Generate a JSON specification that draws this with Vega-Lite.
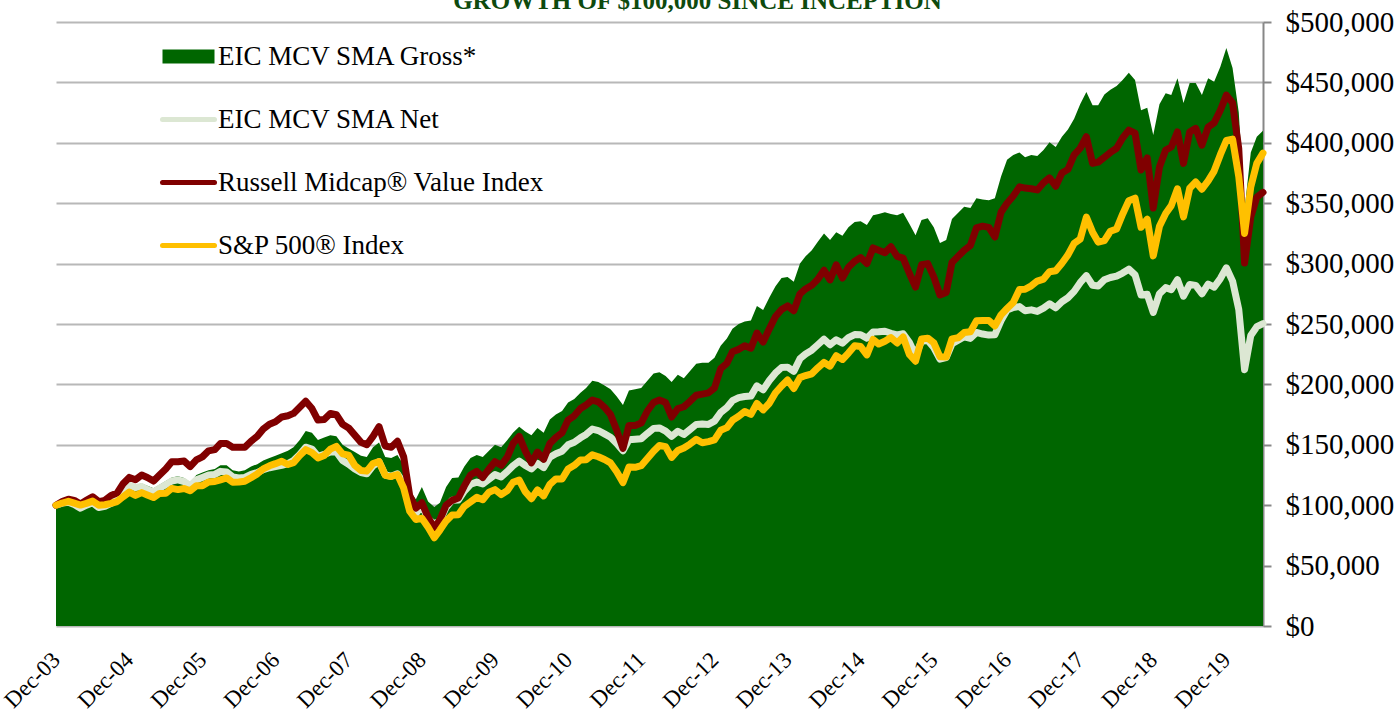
{
  "$schema": "https://vega.github.io/schema/vega-lite/v6.json",
  "width": 1207,
  "height": 604,
  "autosize": {"type": "none"},
  "padding": {"left": 56, "top": 22, "right": 132, "bottom": 99},
  "background": "white",
  "config": {"view": {"stroke": null}},
  "title": {
    "text": "GROWTH OF $100,000 SINCE INCEPTION",
    "font": "Liberation Serif",
    "fontSize": 25,
    "fontWeight": "bold",
    "color": "#0E4A0E",
    "anchor": "middle",
    "frame": "group",
    "offset": -26,
    "baseline": "alphabetic",
    "dx": 38
  },
  "data": {
    "values": [
      {"date": "2003-12-01", "gross": 100000, "net": 100000, "russell": 100000, "sp": 100000},
      {"date": "2004-01-01", "gross": 102000, "net": 101700, "russell": 103000, "sp": 101800},
      {"date": "2004-02-01", "gross": 103000, "net": 102500, "russell": 105000, "sp": 103200},
      {"date": "2004-03-01", "gross": 101000, "net": 100500, "russell": 104000, "sp": 101700},
      {"date": "2004-04-01", "gross": 98000, "net": 97500, "russell": 101000, "sp": 100100},
      {"date": "2004-05-01", "gross": 101000, "net": 100000, "russell": 104000, "sp": 101500},
      {"date": "2004-06-01", "gross": 103000, "net": 102000, "russell": 107000, "sp": 103400},
      {"date": "2004-07-01", "gross": 99000, "net": 98000, "russell": 103000, "sp": 100000},
      {"date": "2004-08-01", "gross": 100000, "net": 99000, "russell": 104000, "sp": 100400},
      {"date": "2004-09-01", "gross": 103000, "net": 101500, "russell": 108000, "sp": 101500},
      {"date": "2004-10-01", "gross": 106000, "net": 104500, "russell": 110000, "sp": 103000},
      {"date": "2004-11-01", "gross": 113000, "net": 111000, "russell": 118000, "sp": 107100},
      {"date": "2004-12-01", "gross": 119000, "net": 116500, "russell": 123000, "sp": 110800},
      {"date": "2005-01-01", "gross": 117000, "net": 114500, "russell": 121000, "sp": 108100},
      {"date": "2005-02-01", "gross": 118000, "net": 115500, "russell": 125000, "sp": 110400},
      {"date": "2005-03-01", "gross": 116000, "net": 113000, "russell": 123000, "sp": 108400},
      {"date": "2005-04-01", "gross": 114000, "net": 111000, "russell": 120000, "sp": 106300},
      {"date": "2005-05-01", "gross": 117000, "net": 114000, "russell": 125000, "sp": 109700},
      {"date": "2005-06-01", "gross": 120000, "net": 117000, "russell": 130000, "sp": 109800},
      {"date": "2005-07-01", "gross": 123000, "net": 120000, "russell": 136000, "sp": 113900},
      {"date": "2005-08-01", "gross": 124000, "net": 121000, "russell": 136000, "sp": 112900},
      {"date": "2005-09-01", "gross": 122500, "net": 119500, "russell": 136500, "sp": 113800},
      {"date": "2005-10-01", "gross": 119000, "net": 116000, "russell": 132000, "sp": 111900},
      {"date": "2005-11-01", "gross": 125000, "net": 121000, "russell": 137500, "sp": 116100},
      {"date": "2005-12-01", "gross": 127000, "net": 123000, "russell": 140000, "sp": 116200},
      {"date": "2006-01-01", "gross": 129000, "net": 125000, "russell": 145000, "sp": 119200},
      {"date": "2006-02-01", "gross": 130000, "net": 125500, "russell": 146000, "sp": 119600},
      {"date": "2006-03-01", "gross": 133000, "net": 128000, "russell": 151000, "sp": 121000},
      {"date": "2006-04-01", "gross": 133000, "net": 127500, "russell": 151000, "sp": 122600},
      {"date": "2006-05-01", "gross": 129000, "net": 123500, "russell": 148000, "sp": 119000},
      {"date": "2006-06-01", "gross": 128000, "net": 122500, "russell": 148000, "sp": 119200},
      {"date": "2006-07-01", "gross": 129000, "net": 123000, "russell": 148000, "sp": 119900},
      {"date": "2006-08-01", "gross": 132000, "net": 125500, "russell": 153000, "sp": 122700},
      {"date": "2006-09-01", "gross": 134000, "net": 127000, "russell": 157000, "sp": 125900},
      {"date": "2006-10-01", "gross": 137000, "net": 129500, "russell": 163000, "sp": 130100},
      {"date": "2006-11-01", "gross": 139000, "net": 131000, "russell": 167000, "sp": 132600},
      {"date": "2006-12-01", "gross": 141000, "net": 132000, "russell": 169000, "sp": 134400},
      {"date": "2007-01-01", "gross": 143000, "net": 133000, "russell": 173000, "sp": 136400},
      {"date": "2007-02-01", "gross": 145000, "net": 134500, "russell": 174000, "sp": 133700},
      {"date": "2007-03-01", "gross": 148000, "net": 137000, "russell": 176000, "sp": 135200},
      {"date": "2007-04-01", "gross": 154000, "net": 142000, "russell": 181000, "sp": 141100},
      {"date": "2007-05-01", "gross": 161500, "net": 148000, "russell": 186000, "sp": 146000},
      {"date": "2007-06-01", "gross": 160000, "net": 146500, "russell": 180000, "sp": 143500},
      {"date": "2007-07-01", "gross": 154000, "net": 140500, "russell": 170500, "sp": 139100},
      {"date": "2007-08-01", "gross": 156000, "net": 142000, "russell": 171000, "sp": 141200},
      {"date": "2007-09-01", "gross": 158000, "net": 144000, "russell": 176000, "sp": 146400},
      {"date": "2007-10-01", "gross": 157000, "net": 144000, "russell": 175000, "sp": 148700},
      {"date": "2007-11-01", "gross": 150000, "net": 137000, "russell": 167000, "sp": 142500},
      {"date": "2007-12-01", "gross": 147000, "net": 134000, "russell": 164000, "sp": 141500},
      {"date": "2008-01-01", "gross": 144000, "net": 130000, "russell": 158000, "sp": 133000},
      {"date": "2008-02-01", "gross": 141000, "net": 127000, "russell": 152000, "sp": 128700},
      {"date": "2008-03-01", "gross": 140000, "net": 126000, "russell": 150000, "sp": 128200},
      {"date": "2008-04-01", "gross": 148000, "net": 132500, "russell": 157000, "sp": 134500},
      {"date": "2008-05-01", "gross": 152000, "net": 136000, "russell": 165000, "sp": 136200},
      {"date": "2008-06-01", "gross": 140000, "net": 125000, "russell": 149000, "sp": 124800},
      {"date": "2008-07-01", "gross": 139000, "net": 124000, "russell": 148000, "sp": 123800},
      {"date": "2008-08-01", "gross": 141500, "net": 126000, "russell": 153000, "sp": 125400},
      {"date": "2008-09-01", "gross": 133000, "net": 118000, "russell": 140000, "sp": 114200},
      {"date": "2008-10-01", "gross": 112000, "net": 99000, "russell": 108000, "sp": 95000},
      {"date": "2008-11-01", "gross": 105000, "net": 93000, "russell": 97500, "sp": 88200},
      {"date": "2008-12-01", "gross": 115000, "net": 100000, "russell": 102000, "sp": 89200},
      {"date": "2009-01-01", "gross": 103000, "net": 88500, "russell": 90000, "sp": 81700},
      {"date": "2009-02-01", "gross": 98500, "net": 84400, "russell": 81000, "sp": 73000},
      {"date": "2009-03-01", "gross": 102000, "net": 87200, "russell": 88000, "sp": 79400},
      {"date": "2009-04-01", "gross": 115000, "net": 98000, "russell": 100000, "sp": 87000},
      {"date": "2009-05-01", "gross": 122500, "net": 104200, "russell": 104000, "sp": 91900},
      {"date": "2009-06-01", "gross": 123000, "net": 104300, "russell": 106000, "sp": 92100},
      {"date": "2009-07-01", "gross": 132000, "net": 111700, "russell": 116000, "sp": 99100},
      {"date": "2009-08-01", "gross": 139000, "net": 117300, "russell": 125000, "sp": 102700},
      {"date": "2009-09-01", "gross": 141500, "net": 119100, "russell": 128000, "sp": 106500},
      {"date": "2009-10-01", "gross": 140000, "net": 117600, "russell": 123000, "sp": 104500},
      {"date": "2009-11-01", "gross": 145000, "net": 121500, "russell": 130000, "sp": 110800},
      {"date": "2009-12-01", "gross": 150000, "net": 125300, "russell": 136000, "sp": 112900},
      {"date": "2010-01-01", "gross": 148000, "net": 123400, "russell": 133000, "sp": 108800},
      {"date": "2010-02-01", "gross": 154000, "net": 128000, "russell": 140000, "sp": 112200},
      {"date": "2010-03-01", "gross": 160000, "net": 132700, "russell": 151000, "sp": 118900},
      {"date": "2010-04-01", "gross": 165000, "net": 136500, "russell": 157000, "sp": 120800},
      {"date": "2010-05-01", "gross": 161000, "net": 132900, "russell": 145000, "sp": 111200},
      {"date": "2010-06-01", "gross": 158000, "net": 130100, "russell": 135000, "sp": 105400},
      {"date": "2010-07-01", "gross": 164000, "net": 134700, "russell": 144000, "sp": 112700},
      {"date": "2010-08-01", "gross": 160000, "net": 131100, "russell": 138000, "sp": 107700},
      {"date": "2010-09-01", "gross": 171000, "net": 139700, "russell": 151000, "sp": 117300},
      {"date": "2010-10-01", "gross": 175000, "net": 142600, "russell": 156000, "sp": 121700},
      {"date": "2010-11-01", "gross": 178000, "net": 144700, "russell": 160000, "sp": 121700},
      {"date": "2010-12-01", "gross": 185000, "net": 150000, "russell": 170500, "sp": 129900},
      {"date": "2011-01-01", "gross": 188000, "net": 152100, "russell": 174000, "sp": 133000},
      {"date": "2011-02-01", "gross": 193000, "net": 155800, "russell": 180000, "sp": 137500},
      {"date": "2011-03-01", "gross": 197000, "net": 158600, "russell": 183000, "sp": 137600},
      {"date": "2011-04-01", "gross": 203000, "net": 163000, "russell": 187000, "sp": 141700},
      {"date": "2011-05-01", "gross": 202000, "net": 161800, "russell": 185500, "sp": 140100},
      {"date": "2011-06-01", "gross": 199000, "net": 159000, "russell": 181000, "sp": 137800},
      {"date": "2011-07-01", "gross": 196000, "net": 156200, "russell": 175000, "sp": 135000},
      {"date": "2011-08-01", "gross": 190000, "net": 151100, "russell": 162000, "sp": 127700},
      {"date": "2011-09-01", "gross": 183000, "net": 145100, "russell": 147000, "sp": 118700},
      {"date": "2011-10-01", "gross": 195000, "net": 154200, "russell": 166000, "sp": 131700},
      {"date": "2011-11-01", "gross": 196000, "net": 154600, "russell": 166000, "sp": 131400},
      {"date": "2011-12-01", "gross": 197000, "net": 155000, "russell": 168000, "sp": 132700},
      {"date": "2012-01-01", "gross": 203000, "net": 159400, "russell": 178000, "sp": 138700},
      {"date": "2012-02-01", "gross": 209000, "net": 163600, "russell": 185000, "sp": 144700},
      {"date": "2012-03-01", "gross": 210000, "net": 164000, "russell": 187000, "sp": 149400},
      {"date": "2012-04-01", "gross": 207000, "net": 161300, "russell": 185000, "sp": 148500},
      {"date": "2012-05-01", "gross": 202000, "net": 157000, "russell": 173000, "sp": 139600},
      {"date": "2012-06-01", "gross": 208000, "net": 161200, "russell": 180000, "sp": 145300},
      {"date": "2012-07-01", "gross": 205000, "net": 158500, "russell": 181500, "sp": 147300},
      {"date": "2012-08-01", "gross": 211000, "net": 162700, "russell": 186000, "sp": 150600},
      {"date": "2012-09-01", "gross": 217000, "net": 166900, "russell": 191000, "sp": 154500},
      {"date": "2012-10-01", "gross": 218000, "net": 167200, "russell": 192000, "sp": 151700},
      {"date": "2012-11-01", "gross": 218000, "net": 166900, "russell": 193000, "sp": 152600},
      {"date": "2012-12-01", "gross": 222000, "net": 169600, "russell": 197000, "sp": 154000},
      {"date": "2013-01-01", "gross": 232000, "net": 176800, "russell": 213000, "sp": 162000},
      {"date": "2013-02-01", "gross": 238000, "net": 180900, "russell": 217500, "sp": 164200},
      {"date": "2013-03-01", "gross": 246000, "net": 186500, "russell": 227000, "sp": 170300},
      {"date": "2013-04-01", "gross": 250000, "net": 189000, "russell": 229000, "sp": 173600},
      {"date": "2013-05-01", "gross": 252000, "net": 190000, "russell": 232000, "sp": 177600},
      {"date": "2013-06-01", "gross": 253000, "net": 190300, "russell": 230000, "sp": 175200},
      {"date": "2013-07-01", "gross": 265000, "net": 198800, "russell": 242500, "sp": 184200},
      {"date": "2013-08-01", "gross": 261500, "net": 195600, "russell": 235000, "sp": 178900},
      {"date": "2013-09-01", "gross": 272000, "net": 203200, "russell": 246000, "sp": 184400},
      {"date": "2013-10-01", "gross": 281000, "net": 209300, "russell": 256000, "sp": 192900},
      {"date": "2013-11-01", "gross": 288000, "net": 214000, "russell": 262000, "sp": 198700},
      {"date": "2013-12-01", "gross": 289000, "net": 214300, "russell": 265000, "sp": 203700},
      {"date": "2014-01-01", "gross": 285000, "net": 210800, "russell": 261000, "sp": 196600},
      {"date": "2014-02-01", "gross": 300000, "net": 221300, "russell": 275000, "sp": 205600},
      {"date": "2014-03-01", "gross": 306000, "net": 225200, "russell": 279000, "sp": 207300},
      {"date": "2014-04-01", "gross": 311000, "net": 228300, "russell": 282000, "sp": 208800},
      {"date": "2014-05-01", "gross": 318000, "net": 232800, "russell": 287000, "sp": 213700},
      {"date": "2014-06-01", "gross": 325000, "net": 237400, "russell": 294500, "sp": 218200},
      {"date": "2014-07-01", "gross": 319500, "net": 232800, "russell": 286500, "sp": 215100},
      {"date": "2014-08-01", "gross": 326000, "net": 236900, "russell": 299000, "sp": 223700},
      {"date": "2014-09-01", "gross": 323000, "net": 234200, "russell": 288000, "sp": 220600},
      {"date": "2014-10-01", "gross": 330000, "net": 238700, "russell": 297000, "sp": 225900},
      {"date": "2014-11-01", "gross": 334500, "net": 241300, "russell": 302000, "sp": 232000},
      {"date": "2014-12-01", "gross": 335000, "net": 241100, "russell": 305000, "sp": 231300},
      {"date": "2015-01-01", "gross": 332000, "net": 238300, "russell": 300000, "sp": 224400},
      {"date": "2015-02-01", "gross": 340000, "net": 243400, "russell": 313000, "sp": 237200},
      {"date": "2015-03-01", "gross": 341000, "net": 243500, "russell": 311000, "sp": 233400},
      {"date": "2015-04-01", "gross": 342500, "net": 244000, "russell": 309000, "sp": 235700},
      {"date": "2015-05-01", "gross": 341000, "net": 242300, "russell": 314000, "sp": 238800},
      {"date": "2015-06-01", "gross": 340000, "net": 241000, "russell": 306000, "sp": 234300},
      {"date": "2015-07-01", "gross": 342000, "net": 241900, "russell": 304500, "sp": 239200},
      {"date": "2015-08-01", "gross": 333000, "net": 234900, "russell": 292000, "sp": 224800},
      {"date": "2015-09-01", "gross": 323500, "net": 224000, "russell": 280500, "sp": 219200},
      {"date": "2015-10-01", "gross": 336000, "net": 235800, "russell": 299000, "sp": 237600},
      {"date": "2015-11-01", "gross": 337500, "net": 236300, "russell": 300000, "sp": 238300},
      {"date": "2015-12-01", "gross": 330000, "net": 230500, "russell": 289000, "sp": 234500},
      {"date": "2016-01-01", "gross": 317000, "net": 220900, "russell": 274000, "sp": 222800},
      {"date": "2016-02-01", "gross": 319500, "net": 222100, "russell": 276000, "sp": 222600},
      {"date": "2016-03-01", "gross": 337000, "net": 233600, "russell": 301000, "sp": 237700},
      {"date": "2016-04-01", "gross": 342000, "net": 236500, "russell": 306000, "sp": 238600},
      {"date": "2016-05-01", "gross": 347000, "net": 239400, "russell": 311000, "sp": 242900},
      {"date": "2016-06-01", "gross": 346000, "net": 238100, "russell": 315000, "sp": 243600},
      {"date": "2016-07-01", "gross": 354000, "net": 243000, "russell": 329500, "sp": 252600},
      {"date": "2016-08-01", "gross": 353000, "net": 241700, "russell": 331000, "sp": 252900},
      {"date": "2016-09-01", "gross": 352500, "net": 240800, "russell": 330000, "sp": 252900},
      {"date": "2016-10-01", "gross": 354000, "net": 241100, "russell": 322000, "sp": 248400},
      {"date": "2016-11-01", "gross": 372000, "net": 252800, "russell": 342500, "sp": 257600},
      {"date": "2016-12-01", "gross": 386000, "net": 261600, "russell": 350000, "sp": 262800},
      {"date": "2017-01-01", "gross": 390000, "net": 263700, "russell": 356000, "sp": 267800},
      {"date": "2017-02-01", "gross": 392000, "net": 264400, "russell": 363500, "sp": 278500},
      {"date": "2017-03-01", "gross": 388000, "net": 261000, "russell": 362500, "sp": 278800},
      {"date": "2017-04-01", "gross": 390000, "net": 261700, "russell": 362000, "sp": 281600},
      {"date": "2017-05-01", "gross": 389000, "net": 260400, "russell": 361000, "sp": 285500},
      {"date": "2017-06-01", "gross": 394000, "net": 263100, "russell": 367000, "sp": 287200},
      {"date": "2017-07-01", "gross": 400500, "net": 266800, "russell": 371000, "sp": 293200},
      {"date": "2017-08-01", "gross": 396500, "net": 263400, "russell": 364000, "sp": 294100},
      {"date": "2017-09-01", "gross": 405000, "net": 268400, "russell": 375000, "sp": 300300},
      {"date": "2017-10-01", "gross": 411000, "net": 271700, "russell": 378000, "sp": 307200},
      {"date": "2017-11-01", "gross": 420000, "net": 277000, "russell": 390000, "sp": 316700},
      {"date": "2017-12-01", "gross": 432000, "net": 284200, "russell": 395500, "sp": 320200},
      {"date": "2018-01-01", "gross": 442000, "net": 290000, "russell": 405000, "sp": 338500},
      {"date": "2018-02-01", "gross": 431000, "net": 282100, "russell": 383000, "sp": 326000},
      {"date": "2018-03-01", "gross": 431000, "net": 281400, "russell": 384000, "sp": 317800},
      {"date": "2018-04-01", "gross": 440000, "net": 286600, "russell": 388000, "sp": 319100},
      {"date": "2018-05-01", "gross": 444000, "net": 288500, "russell": 392000, "sp": 326800},
      {"date": "2018-06-01", "gross": 447000, "net": 289700, "russell": 395500, "sp": 328700},
      {"date": "2018-07-01", "gross": 452000, "net": 292200, "russell": 404000, "sp": 340900},
      {"date": "2018-08-01", "gross": 458000, "net": 295400, "russell": 410500, "sp": 352100},
      {"date": "2018-09-01", "gross": 452000, "net": 290700, "russell": 408000, "sp": 354200},
      {"date": "2018-10-01", "gross": 427000, "net": 274000, "russell": 377500, "sp": 330100},
      {"date": "2018-11-01", "gross": 429000, "net": 274600, "russell": 387500, "sp": 336700},
      {"date": "2018-12-01", "gross": 406500, "net": 259500, "russell": 346000, "sp": 306400},
      {"date": "2019-01-01", "gross": 432000, "net": 275100, "russell": 380000, "sp": 330900},
      {"date": "2019-02-01", "gross": 441000, "net": 280100, "russell": 394000, "sp": 341500},
      {"date": "2019-03-01", "gross": 439500, "net": 278500, "russell": 396500, "sp": 348000},
      {"date": "2019-04-01", "gross": 453500, "net": 286700, "russell": 409000, "sp": 361900},
      {"date": "2019-05-01", "gross": 433000, "net": 273000, "russell": 383000, "sp": 338700},
      {"date": "2019-06-01", "gross": 449500, "net": 282700, "russell": 409000, "sp": 362400},
      {"date": "2019-07-01", "gross": 449500, "net": 282000, "russell": 412000, "sp": 367500},
      {"date": "2019-08-01", "gross": 439500, "net": 275000, "russell": 398000, "sp": 361600},
      {"date": "2019-09-01", "gross": 453500, "net": 283100, "russell": 413000, "sp": 368500},
      {"date": "2019-10-01", "gross": 450500, "net": 280500, "russell": 416500, "sp": 376600},
      {"date": "2019-11-01", "gross": 463000, "net": 287600, "russell": 427000, "sp": 390200},
      {"date": "2019-12-01", "gross": 478500, "net": 296500, "russell": 439500, "sp": 401900},
      {"date": "2020-01-01", "gross": 462000, "net": 285500, "russell": 433000, "sp": 403000},
      {"date": "2020-02-01", "gross": 425000, "net": 262000, "russell": 395000, "sp": 372000},
      {"date": "2020-03-01", "gross": 345000, "net": 212200, "russell": 300500, "sp": 325000},
      {"date": "2020-04-01", "gross": 392000, "net": 240500, "russell": 338500, "sp": 363500},
      {"date": "2020-05-01", "gross": 405000, "net": 247800, "russell": 355000, "sp": 383000},
      {"date": "2020-06-01", "gross": 410000, "net": 250300, "russell": 359000, "sp": 391500}
    ]
  },
  "encoding": {
    "x": {
      "field": "date",
      "type": "temporal",
      "scale": {
        "type": "utc",
        "domain": [
          {"year": 2003, "month": 12, "date": 1, "utc": true},
          {"year": 2020, "month": 6, "date": 1, "utc": true}
        ],
        "nice": false
      },
      "axis": {
        "values": [
          {"year": 2003, "month": 12, "date": 1, "utc": true},
          {"year": 2004, "month": 12, "date": 1, "utc": true},
          {"year": 2005, "month": 12, "date": 1, "utc": true},
          {"year": 2006, "month": 12, "date": 1, "utc": true},
          {"year": 2007, "month": 12, "date": 1, "utc": true},
          {"year": 2008, "month": 12, "date": 1, "utc": true},
          {"year": 2009, "month": 12, "date": 1, "utc": true},
          {"year": 2010, "month": 12, "date": 1, "utc": true},
          {"year": 2011, "month": 12, "date": 1, "utc": true},
          {"year": 2012, "month": 12, "date": 1, "utc": true},
          {"year": 2013, "month": 12, "date": 1, "utc": true},
          {"year": 2014, "month": 12, "date": 1, "utc": true},
          {"year": 2015, "month": 12, "date": 1, "utc": true},
          {"year": 2016, "month": 12, "date": 1, "utc": true},
          {"year": 2017, "month": 12, "date": 1, "utc": true},
          {"year": 2018, "month": 12, "date": 1, "utc": true},
          {"year": 2019, "month": 12, "date": 1, "utc": true}
        ],
        "labelExpr": "utcFormat(datum.value, '%b-%y')",
        "labelAngle": -45,
        "labelAlign": "right",
        "labelBaseline": "middle",
        "labelFont": "Liberation Serif",
        "labelFontSize": 23,
        "labelColor": "#000000",
        "labelPadding": 22,
        "offset": 8,
        "labelFlush": false,
        "labelOverlap": false,
        "labelBound": false,
        "ticks": false,
        "grid": false,
        "domain": false,
        "title": null
      }
    }
  },
  "layer": [
    {
      "mark": {"type": "area", "opacity": 1, "line": false},
      "encoding": {
        "y": {
          "field": "gross",
          "type": "quantitative",
          "scale": {"domain": [0, 500000], "nice": false, "zero": true},
          "axis": {
            "orient": "right",
            "values": [0, 50000, 100000, 150000, 200000, 250000, 300000, 350000, 400000, 450000, 500000],
            "format": "$,.0f",
            "labelFont": "Liberation Serif",
            "labelFontSize": 29,
            "labelColor": "#000000",
            "labelPadding": 14,
            "labelFlush": false,
            "labelOverlap": false,
            "tickSize": 8,
            "tickColor": "#878787",
            "tickWidth": 2,
            "domainColor": "#878787",
            "domainWidth": 2,
            "gridColor": "#B8B8B8",
            "gridWidth": 2,
            "title": null
          }
        },
        "color": {"datum": "gross", "type": "nominal"}
      }
    },
    {
      "transform": [{"fold": ["net", "russell", "sp"], "as": ["series", "value"]}],
      "mark": {"type": "line", "strokeWidth": 7, "strokeCap": "round", "strokeJoin": "round"},
      "encoding": {
        "y": {
          "field": "value",
          "type": "quantitative"
        },
        "color": {
          "field": "series",
          "type": "nominal",
          "scale": {
            "domain": ["gross", "net", "russell", "sp"],
            "range": ["#006600", "#DCE7D3", "#800000", "#FFC000"]
          },
          "legend": {
            "orient": "none",
            "legendX": 119,
            "legendY": 21,
            "title": null,
            "symbolType": "stroke",
            "symbolSize": 2704,
            "symbolStrokeWidth": 5,
            "labelFont": "Liberation Serif",
            "labelFontSize": 27,
            "labelColor": "#000000",
            "labelOffset": 16,
            "labelLimit": 0,
            "rowPadding": 20,
            "gridAlign": "all",
            "labelExpr": "datum.value === 'gross' ? 'EIC MCV SMA Gross*' : datum.value === 'net' ? 'EIC MCV SMA Net' : datum.value === 'russell' ? 'Russell Midcap® Value Index' : 'S&P 500® Index'",
            "encode": {
              "symbols": {
                "update": {
                  "strokeWidth": {"signal": "datum.value === 'gross' ? 14 : 5"},
                  "strokeCap": {"signal": "datum.value === 'gross' ? 'butt' : 'round'"},
                  "opacity": {"value": 1}
                }
              }
            }
          }
        }
      }
    }
  ]
}
